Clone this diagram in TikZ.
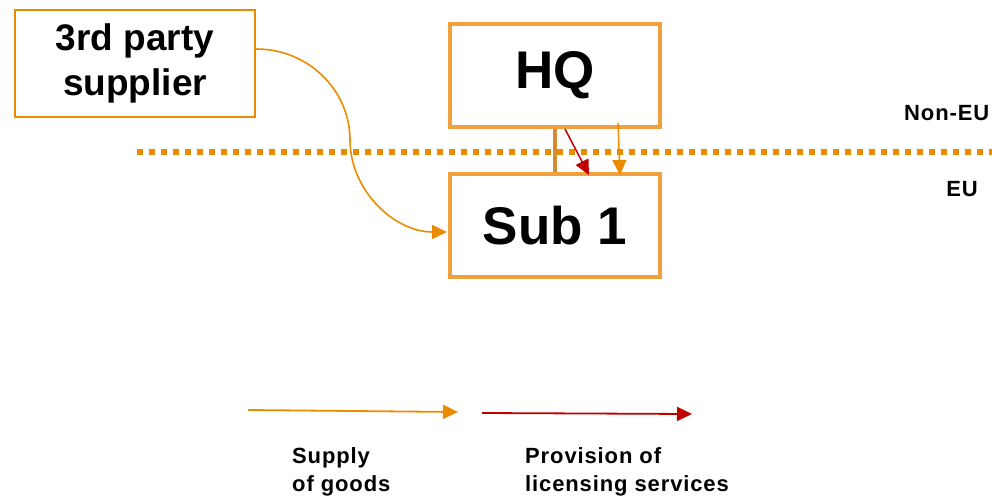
\documentclass[tikz,border=0pt]{standalone}
\usepackage{fontspec}
\setmainfont{Liberation Sans}
\newfontfamily\lblfont[LetterSpace=4]{Liberation Sans}
\usetikzlibrary{arrows.meta,calc}
\definecolor{orgA}{RGB}{235,140,0}
\definecolor{orgB}{RGB}{240,160,60}
\definecolor{orgC}{RGB}{210,140,50}
\definecolor{redA}{RGB}{192,0,0}
\begin{document}
\begin{tikzpicture}[x=1pt,y=-1pt,
  bigbox/.style={draw=orgB, line width=4pt, fill=white, minimum width=210pt, minimum height=103pt, inner sep=0pt, font=\bfseries\fontsize{53}{60}\selectfont},
  supbox/.style={draw=orgA, line width=2.5pt, fill=white, minimum width=240pt, minimum height=107pt, inner sep=0pt, align=center, font=\bfseries\fontsize{37}{45}\selectfont},
  lbl/.style={font=\lblfont\bfseries\fontsize{22}{28}\selectfont, inner sep=0pt},
  head/.style={-{Triangle[length=15pt,width=14pt]}},
  goods/.style={draw=orgA, line width=1.8pt, head},
  lic/.style={draw=redA, line width=1.8pt, head}]
\clip (0,0) rectangle (992,495);
\useasboundingbox (0,0) rectangle (992,495);
% dotted border line
\coordinate (d1) at (137,152);
\coordinate (d2) at (992,152);
\draw[orgA, line width=6pt, dash pattern=on 6pt off 6pt] (d1) -- (d2);
% nodes
\node[supbox] (sup) at (135,63.5) {3rd party\\supplier};
\node[bigbox] (HQ) at (555,75.5) {HQ};
\node[bigbox] (S1) at (555,225.5) {Sub 1};
% connectors
\draw[orgC, line width=4pt] (HQ.south) -- (S1.north);
\draw[lic, line width=1.5pt] ($(HQ.south)+(10,0)$) -- ($(S1.north)+(34,3)$);
\draw[goods, line width=1.5pt] ($(HQ.south)+(63,-6)$) -- ($(S1.north)+(65,3)$);
\draw[goods, line width=1.6pt] ($(sup.east)+(0,-14.5)$) .. controls (308,49) and (350,90) .. (350,140)
   .. controls (350,190) and (394,232) .. ($(S1.west)+(-1,6.5)$);
% region labels
\node[lbl, anchor=west] (nonEU) at (904,113) {Non-EU};
\node[lbl] (EU) at (962,189) {EU};
% legend
\coordinate (g1) at (248,410);
\coordinate (g2) at (458,412);
\coordinate (r1) at (482,413);
\coordinate (r2) at (692,414);
\draw[goods] (g1) -- (g2);
\draw[lic] (r1) -- (r2);
\node[lbl, align=left, anchor=north west] (lg) at (292,447) {Supply\\of goods};
\node[lbl, align=left, anchor=north west] (lr) at (525,447) {Provision of\\licensing services};
\end{tikzpicture}
\end{document}
